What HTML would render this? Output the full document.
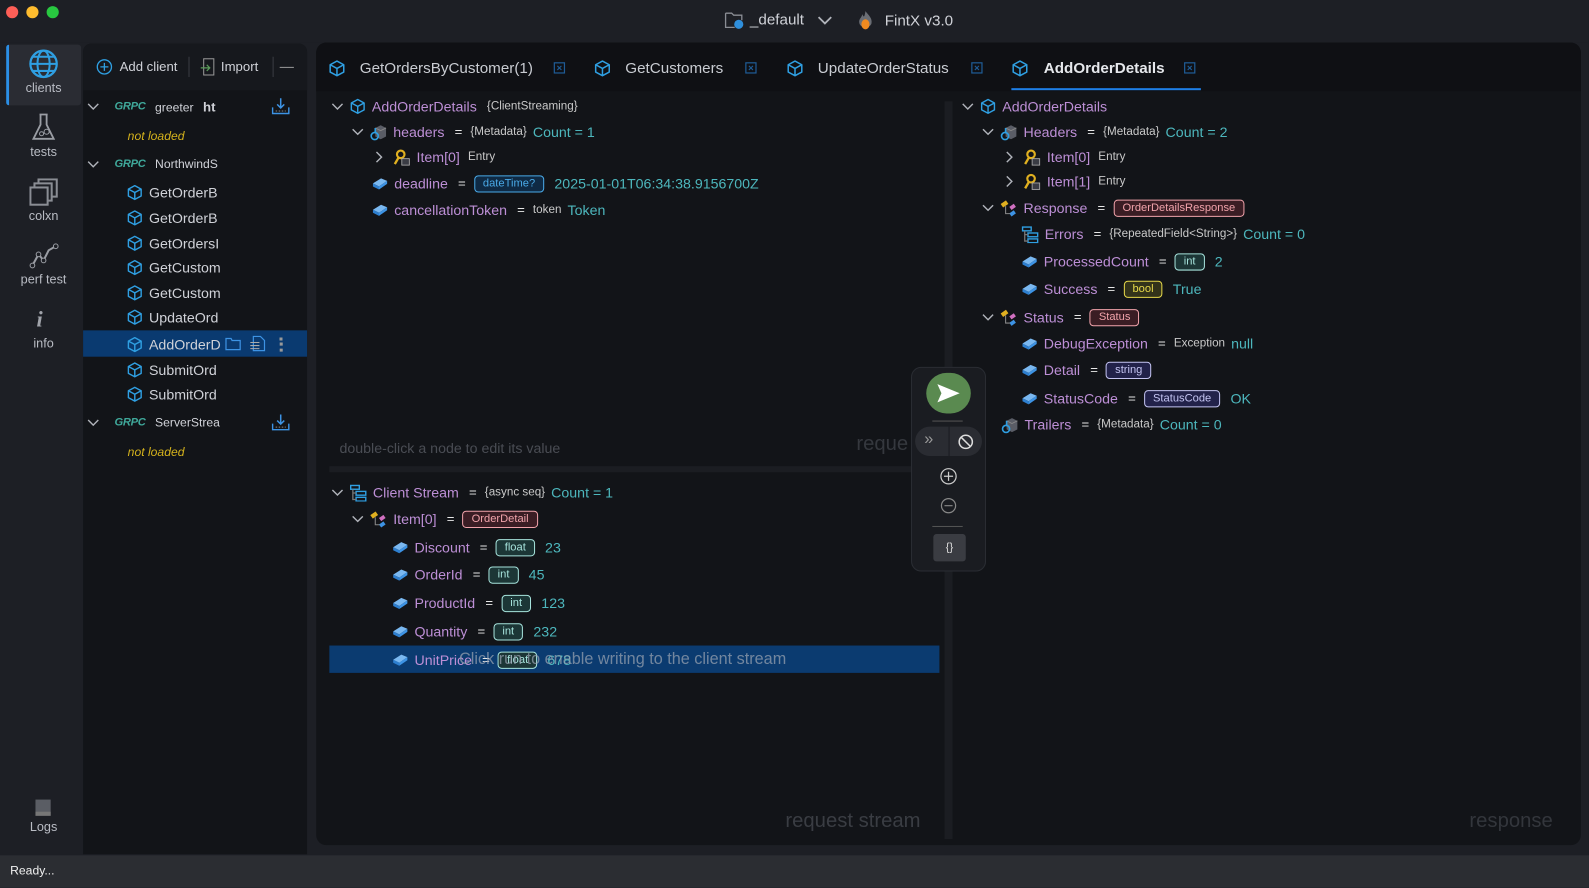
<!DOCTYPE html>
<html><head><meta charset="utf-8">
<style>
*{box-sizing:border-box;margin:0;padding:0}
html,body{width:1589px;height:888px;overflow:hidden;background:#1c1e24;font-family:"Liberation Sans",sans-serif}
#w{position:absolute;left:0;top:0;width:1568px;height:876px;transform:scale(1.01339);transform-origin:0 0;background:#1d1f25}
.a{position:absolute}
.r{position:absolute;display:flex;align-items:center;height:20px;white-space:nowrap}
.r>*{margin-right:6px}
.r>span{line-height:20px}
.n{color:#bd8fd6;font-size:14px}
.eq{color:#e8e8e8;font-size:13px;margin:0 8px 0 4px}
.ty{color:#c9c9c9;font-size:11.5px}
.v{color:#4db7bd;font-size:14px}
.r>.p{font-size:11px;padding:0 8px;border-radius:4px;border:1px solid;height:17px;line-height:15px;margin-right:10px}
.pi{background:#1c3636;border-color:#3d6a68;color:#a6e3dc}
.pb{background:#33331a;border-color:#6a6a30;color:#e6d84a}
.pr{background:#3a1d24;border-color:#9a3e4e;color:#f1a3ab}
.ps{background:#22224a;border-color:#56569a;color:#c4c4f2}
.pd{background:#0f2a44;border-color:#2c6494;color:#4aaae8}
.side{color:#b9bcc4;font-size:12.5px;text-align:center;width:74px}
.cl{color:#d0d2d8;font-size:14px}
.tab{color:#c9ccd2;font-size:15px}
.g{color:#3fa89a;font-size:11px;font-weight:bold;font-style:italic;letter-spacing:-.3px}
</style></head><body><div id="w">
<svg width="0" height="0" style="position:absolute">
<defs>
<symbol id="cube" viewBox="0 0 16 16"><path d="M8 1.2L14.3 4.6V11.4L8 14.8L1.7 11.4V4.6Z M1.7 4.6L8 8L14.3 4.6 M8 8V14.8" fill="none" stroke="#2f9fe2" stroke-width="1.4" stroke-linejoin="round"/></symbol>
<symbol id="fld" viewBox="0 0 16 14"><path d="M1 7L9 2L15 4.5L7 10Z" fill="#7ab8f0"/><path d="M1 7L7 10L7 13L1 10Z" fill="#2d7fd0"/><path d="M7 10L15 4.5L15 7.5L7 13Z" fill="#3d93e4"/></symbol>
<symbol id="hdr" viewBox="0 0 16 16"><path d="M5 4L10 1.5L15 4V12L10 14.5L5 12Z" fill="#5a5d66"/><path d="M5 4L10 6.5L15 4" fill="none" stroke="#888" stroke-width=".8"/><circle cx="4.5" cy="11.5" r="3.3" fill="none" stroke="#2f9fe2" stroke-width="1.5"/><path d="M5 4L5 9" stroke="#2f9fe2" stroke-width="1.5"/></symbol>
<symbol id="key" viewBox="0 0 16 16"><circle cx="7" cy="5" r="3.5" fill="none" stroke="#e0b020" stroke-width="2"/><path d="M5 8L1.5 14" stroke="#e0b020" stroke-width="2.2"/><rect x="8" y="9" width="7" height="6" fill="#3a3c44" stroke="#aaa" stroke-width=".8"/></symbol>
<symbol id="str" viewBox="0 0 16 16"><rect x="1" y="2" width="6" height="4" transform="rotate(-35 4 4)" fill="#e0b020"/><rect x="9" y="5" width="5" height="3.5" transform="rotate(-35 11.5 6.7)" fill="#d070c0"/><rect x="9" y="11" width="5" height="3.5" transform="rotate(-35 11.5 12.7)" fill="#3d93e4"/><path d="M5 6V13H9" fill="none" stroke="#888" stroke-width="1"/></symbol>
<symbol id="lst" viewBox="0 0 16 16"><rect x="1" y="1" width="8" height="3.5" fill="none" stroke="#2f9fe2" stroke-width="1.3"/><rect x="6" y="6.5" width="9" height="3.5" fill="none" stroke="#2f9fe2" stroke-width="1.3"/><rect x="6" y="12" width="9" height="3.5" fill="none" stroke="#2f9fe2" stroke-width="1.3"/><path d="M3 4.5V14H6M3 8H6" stroke="#777" stroke-width="1.2" fill="none"/></symbol>
<symbol id="dn" viewBox="0 0 12 8"><path d="M1 1.5L6 6.5L11 1.5" fill="none" stroke="#b0b3ba" stroke-width="1.4"/></symbol>
<symbol id="rt" viewBox="0 0 8 12"><path d="M1.5 1L6.5 6L1.5 11" fill="none" stroke="#b0b3ba" stroke-width="1.4"/></symbol>
<symbol id="x" viewBox="0 0 12 12"><rect x="1" y="1" width="10" height="10" fill="none" stroke="#1f5c96" stroke-width="1.2"/><path d="M4 4L8 8M8 4L4 8" stroke="#1f5c96" stroke-width="1.1"/></symbol>
<symbol id="dl" viewBox="0 0 18 18"><path d="M1 10V16H17V10" fill="none" stroke="#3d93e4" stroke-width="1.4"/><path d="M9 1V10M5.5 7L9 10.5L12.5 7" fill="none" stroke="#3d93e4" stroke-width="1.5"/><path d="M4 13.5H14" stroke="#888" stroke-dasharray="1.5 1.5"/></symbol>
</defs></svg>

<!-- title bar -->
<div class="a" style="left:0;top:0;width:1568px;height:42px;background:#1d1f25"></div>
<div class="a" style="left:6px;top:6px;width:12px;height:12px;border-radius:6px;background:#fe5f57"></div>
<div class="a" style="left:26px;top:6px;width:12px;height:12px;border-radius:6px;background:#febc2e"></div>
<div class="a" style="left:46px;top:6px;width:12px;height:12px;border-radius:6px;background:#28c840"></div>
<svg class="a" style="left:715px;top:11px" width="20" height="18" viewBox="0 0 20 18"><path d="M1 2H7L9 4H17V9M1 2V16H10" fill="none" stroke="#8a8d94" stroke-width="1.3"/><circle cx="14" cy="13" r="4.5" fill="#2f8fdc"/></svg>
<div class="a" style="left:740px;top:11px;color:#d0d2d8;font-size:15px">_default</div>
<svg class="a" style="left:806px;top:15px" width="16" height="10" viewBox="0 0 12 8"><use href="#dn"/></svg>
<svg class="a" style="left:845px;top:10px" width="18" height="20" viewBox="0 0 18 20"><path d="M9 1C12 5 16 8 15 13C14 18 4 18 3 13C2 9 5 8 6 4C7 7 8 8 9 1Z" fill="#6a6d74"/><ellipse cx="9" cy="14" rx="4" ry="5" fill="#f08a20"/></svg>
<div class="a" style="left:873px;top:12px;color:#d0d2d8;font-size:15px">FintX v3.0</div>

<!-- left icon bar -->
<div class="a" style="left:6px;top:44px;width:74px;height:60px;background:#2a2c33;border-left:3px solid #2b8fe6;border-radius:3px"></div>
<svg class="a" style="left:28px;top:48px" width="30" height="30" viewBox="0 0 30 30"><circle cx="15" cy="15" r="13" fill="none" stroke="#2f9fe2" stroke-width="2.2"/><ellipse cx="15" cy="15" rx="6" ry="13" fill="none" stroke="#2f9fe2" stroke-width="2"/><path d="M2 15H28M4 8H26M4 22H26" stroke="#2f9fe2" stroke-width="2"/></svg>
<div class="a side" style="left:6px;top:80px">clients</div>
<svg class="a" style="left:31px;top:111px" width="24" height="30" viewBox="0 0 24 30"><path d="M8 2H16M9 2V12L2 26H22L15 12V2" fill="none" stroke="#9a9da4" stroke-width="1.8"/><circle cx="10" cy="21" r="2" fill="none" stroke="#9a9da4"/><circle cx="15" cy="19" r="2.5" fill="none" stroke="#9a9da4"/></svg>
<div class="a side" style="left:6px;top:143px">tests</div>
<svg class="a" style="left:29px;top:176px" width="30" height="28" viewBox="0 0 30 28"><rect x="1" y="9" width="17" height="17" fill="none" stroke="#8a8d94" stroke-width="2"/><path d="M5 9V5H22V22H18M9 5V1H27V18H22" fill="none" stroke="#8a8d94" stroke-width="2"/></svg>
<div class="a side" style="left:6px;top:206px">colxn</div>
<svg class="a" style="left:29px;top:240px" width="30" height="26" viewBox="0 0 30 26"><path d="M3 22L9 11L14 17L19 7L26 3" fill="none" stroke="#9a9da4" stroke-width="2"/><circle cx="3" cy="22" r="2.3" fill="#1d1f25" stroke="#9a9da4"/><circle cx="9" cy="11" r="2.3" fill="#1d1f25" stroke="#9a9da4"/><circle cx="14" cy="17" r="2.3" fill="#1d1f25" stroke="#9a9da4"/><circle cx="26" cy="3" r="2.3" fill="#1d1f25" stroke="#9a9da4"/></svg>
<div class="a side" style="left:6px;top:269px">perf test</div>
<div class="a" style="left:36px;top:302px;color:#a0a3aa;font-size:22px;font-style:italic;font-family:'Liberation Serif',serif;font-weight:bold">i</div>
<div class="a side" style="left:6px;top:332px">info</div>
<div class="a" style="left:35px;top:789px;width:15px;height:16px;background:#5a5d64;border-bottom:4px solid #777"></div>
<div class="a side" style="left:6px;top:809px">Logs</div>

<!-- client list -->
<div class="a" style="left:82px;top:43px;width:221px;height:800px;background:#121418;border-radius:8px 8px 0 0"></div>
<div class="a" style="left:82px;top:43px;width:221px;height:46px;background:#16181d;border-radius:8px 8px 0 0"></div>
<svg class="a" style="left:95px;top:58px" width="16" height="16" viewBox="0 0 16 16"><circle cx="8" cy="8" r="7" fill="none" stroke="#2f9fe2" stroke-width="1.3"/><path d="M8 4V12M4 8H12" stroke="#2f9fe2" stroke-width="1.3"/></svg>
<div class="a cl" style="left:118px;top:58px;font-size:13px">Add client</div>
<div class="a" style="left:186px;top:56px;width:1px;height:20px;background:#3a3c44"></div>
<svg class="a" style="left:198px;top:57px" width="15" height="18" viewBox="0 0 15 18"><rect x="3" y="1" width="10" height="16" fill="none" stroke="#999"/><path d="M0 10H9M6 7L9 10L6 13" fill="none" stroke="#5a9a5a" stroke-width="1.2"/></svg>
<div class="a cl" style="left:218px;top:58px;font-size:13px">Import</div>
<div class="a" style="left:269px;top:56px;width:1px;height:20px;background:#3a3c44"></div>
<div class="a" style="left:276px;top:66px;width:14px;height:1px;background:#999"></div>

<svg class="a" style="left:86px;top:101px" width="12" height="8"><use href="#dn"/></svg>
<div class="a g" style="left:113px;top:99px">GRPC</div>
<div class="a cl" style="left:153px;top:98px;font-size:12px">greeter <b style="font-size:13px;margin-left:6px">ht</b></div>
<svg class="a" style="left:268px;top:96px" width="18" height="18"><use href="#dl"/></svg>
<div class="a" style="left:126px;top:127px;color:#d4b21c;font-size:12px;font-style:italic">not loaded</div>
<svg class="a" style="left:86px;top:158px" width="12" height="8"><use href="#dn"/></svg>
<div class="a g" style="left:113px;top:156px">GRPC</div>
<div class="a cl" style="left:153px;top:155px;font-size:12px">NorthwindS</div>

<div class="a" style="left:82px;top:326px;width:221px;height:26px;background:#0a3a70"></div>
<svg class="a" style="left:125px;top:182px" width="16" height="16"><use href="#cube"/></svg><div class="a cl" style="left:147px;top:182px">GetOrderB</div>
<svg class="a" style="left:125px;top:207px" width="16" height="16"><use href="#cube"/></svg><div class="a cl" style="left:147px;top:207px">GetOrderB</div>
<svg class="a" style="left:125px;top:232px" width="16" height="16"><use href="#cube"/></svg><div class="a cl" style="left:147px;top:232px">GetOrdersI</div>
<svg class="a" style="left:125px;top:256px" width="16" height="16"><use href="#cube"/></svg><div class="a cl" style="left:147px;top:256px">GetCustom</div>
<svg class="a" style="left:125px;top:281px" width="16" height="16"><use href="#cube"/></svg><div class="a cl" style="left:147px;top:281px">GetCustom</div>
<svg class="a" style="left:125px;top:305px" width="16" height="16"><use href="#cube"/></svg><div class="a cl" style="left:147px;top:305px">UpdateOrd</div>
<svg class="a" style="left:125px;top:332px" width="16" height="16"><use href="#cube"/></svg><div class="a cl" style="left:147px;top:332px">AddOrderD</div>
<svg class="a" style="left:222px;top:333px" width="16" height="13" viewBox="0 0 16 13"><path d="M1 1H6L7 3H15V12H1Z" fill="none" stroke="#3d93e4" stroke-width="1.2"/></svg>
<svg class="a" style="left:246px;top:331px" width="16" height="16" viewBox="0 0 16 16"><path d="M4 1H11L15 5V15H4Z" fill="none" stroke="#3d93e4" stroke-width="1.2"/><path d="M1 7H10M1 10H10M1 13H10" stroke="#aaa"/></svg>
<div class="a" style="left:276px;top:333px;width:3px;height:14px;border-left:3px dotted #999"></div>
<svg class="a" style="left:125px;top:357px" width="16" height="16"><use href="#cube"/></svg><div class="a cl" style="left:147px;top:357px">SubmitOrd</div>
<svg class="a" style="left:125px;top:381px" width="16" height="16"><use href="#cube"/></svg><div class="a cl" style="left:147px;top:381px">SubmitOrd</div>
<svg class="a" style="left:86px;top:413px" width="12" height="8"><use href="#dn"/></svg>
<div class="a g" style="left:113px;top:411px">GRPC</div>
<div class="a cl" style="left:153px;top:410px;font-size:12px">ServerStrea</div>
<svg class="a" style="left:268px;top:408px" width="18" height="18"><use href="#dl"/></svg>
<div class="a" style="left:126px;top:439px;color:#d4b21c;font-size:12px;font-style:italic">not loaded</div>

<!-- main panel -->
<div class="a" style="left:312px;top:42px;width:1248px;height:792px;background:#121418;border-radius:10px"></div>
<div class="a" style="left:312px;top:42px;width:1248px;height:48px;background:#0f1014;border-radius:10px 10px 0 0"></div>
<svg class="a" style="left:324px;top:59px" width="17" height="17"><use href="#cube"/></svg><div class="a tab" style="left:355px;top:59px">GetOrdersByCustomer(1)</div>
<svg class="a" style="left:546px;top:61px" width="12" height="12"><use href="#x"/></svg>
<svg class="a" style="left:586px;top:59px" width="17" height="17"><use href="#cube"/></svg><div class="a tab" style="left:617px;top:59px">GetCustomers</div>
<svg class="a" style="left:735px;top:61px" width="12" height="12"><use href="#x"/></svg>
<svg class="a" style="left:776px;top:59px" width="17" height="17"><use href="#cube"/></svg><div class="a tab" style="left:807px;top:59px">UpdateOrderStatus</div>
<svg class="a" style="left:958px;top:61px" width="12" height="12"><use href="#x"/></svg>
<svg class="a" style="left:998px;top:59px" width="17" height="17"><use href="#cube"/></svg><div class="a tab" style="left:1030px;top:59px;font-weight:bold;color:#e6e8ec">AddOrderDetails</div>
<svg class="a" style="left:1168px;top:61px" width="12" height="12"><use href="#x"/></svg>
<div class="a" style="left:998px;top:87px;width:187px;height:2px;background:#1e7fe6"></div>

<!-- splitters -->
<div class="a" style="left:932px;top:100px;width:8px;height:728px;background:#1b1d22"></div>
<div class="a" style="left:325px;top:460px;width:603px;height:6px;background:#1b1d22"></div>

<!-- request tree -->
<div class="r" style="left:327px;top:95px"><svg width="12" height="8"><use href="#dn"/></svg><svg width="16" height="16"><use href="#cube"/></svg><span class="n">AddOrderDetails</span><span class="ty" style="margin-left:4px">{ClientStreaming}</span></div>
<div class="r" style="left:347px;top:120px"><svg width="12" height="8"><use href="#dn"/></svg><svg width="17" height="17"><use href="#hdr"/></svg><span class="n">headers</span><span class="eq">=</span><span class="ty">{Metadata}</span><span class="v">Count = 1</span></div>
<div class="r" style="left:370px;top:145px"><svg width="8" height="12"><use href="#rt"/></svg><svg width="17" height="17" style="margin-left:4px"><use href="#key"/></svg><span class="n">Item[0]</span><span class="ty" style="margin-left:2px">Entry</span></div>
<div class="r" style="left:367px;top:171px"><svg width="16" height="14"><use href="#fld"/></svg><span class="n">deadline</span><span class="eq">=</span><span class="p pd">dateTime?</span><span class="v">2025-01-01T06:34:38.9156700Z</span></div>
<div class="r" style="left:367px;top:197px"><svg width="16" height="14"><use href="#fld"/></svg><span class="n">cancellationToken</span><span class="eq">=</span><span class="ty">token</span><span class="v">Token</span></div>
<div class="a" style="left:335px;top:434px;color:#4a4d54;font-size:14px">double-click a node to edit its value</div>
<div class="a" style="left:845px;top:427px;color:#35383e;font-size:20px">reque</div>

<div class="r" style="left:327px;top:476px"><svg width="12" height="8"><use href="#dn"/></svg><svg width="17" height="17"><use href="#lst"/></svg><span class="n">Client Stream</span><span class="eq">=</span><span class="ty">{async seq}</span><span class="v">Count = 1</span></div>
<div class="r" style="left:347px;top:502px"><svg width="12" height="8"><use href="#dn"/></svg><svg width="17" height="17"><use href="#str"/></svg><span class="n">Item[0]</span><span class="eq">=</span><span class="p pr">OrderDetail</span></div>
<div class="r" style="left:387px;top:530px"><svg width="16" height="14"><use href="#fld"/></svg><span class="n">Discount</span><span class="eq">=</span><span class="p pi">float</span><span class="v">23</span></div>
<div class="r" style="left:387px;top:557px"><svg width="16" height="14"><use href="#fld"/></svg><span class="n">OrderId</span><span class="eq">=</span><span class="p pi">int</span><span class="v">45</span></div>
<div class="r" style="left:387px;top:585px"><svg width="16" height="14"><use href="#fld"/></svg><span class="n">ProductId</span><span class="eq">=</span><span class="p pi">int</span><span class="v">123</span></div>
<div class="r" style="left:387px;top:613px"><svg width="16" height="14"><use href="#fld"/></svg><span class="n">Quantity</span><span class="eq">=</span><span class="p pi">int</span><span class="v">232</span></div>
<div class="a" style="left:325px;top:637px;width:602px;height:27px;background:#0b3b70"></div>
<div class="r" style="left:387px;top:641px"><svg width="16" height="14"><use href="#fld"/></svg><span class="n">UnitPrice</span><span class="eq">=</span><span class="p pi">float</span><span class="v">678</span></div>
<div class="a" style="left:453px;top:642px;color:rgba(150,160,175,.75);font-size:16px">Click run to enable writing to the client stream</div>
<div class="a" style="left:775px;top:799px;color:#3a3d43;font-size:20px">request stream</div>

<!-- response tree -->
<div class="r" style="left:949px;top:95px"><svg width="12" height="8"><use href="#dn"/></svg><svg width="16" height="16"><use href="#cube"/></svg><span class="n">AddOrderDetails</span></div>
<div class="r" style="left:969px;top:120px"><svg width="12" height="8"><use href="#dn"/></svg><svg width="17" height="17"><use href="#hdr"/></svg><span class="n">Headers</span><span class="eq">=</span><span class="ty">{Metadata}</span><span class="v">Count = 2</span></div>
<div class="r" style="left:992px;top:145px"><svg width="8" height="12"><use href="#rt"/></svg><svg width="17" height="17" style="margin-left:4px"><use href="#key"/></svg><span class="n">Item[0]</span><span class="ty" style="margin-left:2px">Entry</span></div>
<div class="r" style="left:992px;top:169px"><svg width="8" height="12"><use href="#rt"/></svg><svg width="17" height="17" style="margin-left:4px"><use href="#key"/></svg><span class="n">Item[1]</span><span class="ty" style="margin-left:2px">Entry</span></div>
<div class="r" style="left:969px;top:195px"><svg width="12" height="8"><use href="#dn"/></svg><svg width="17" height="17"><use href="#str"/></svg><span class="n">Response</span><span class="eq">=</span><span class="p pr">OrderDetailsResponse</span></div>
<div class="r" style="left:1008px;top:221px"><svg width="17" height="17"><use href="#lst"/></svg><span class="n">Errors</span><span class="eq">=</span><span class="ty">{RepeatedField&lt;String&gt;}</span><span class="v">Count = 0</span></div>
<div class="r" style="left:1008px;top:248px"><svg width="16" height="14"><use href="#fld"/></svg><span class="n">ProcessedCount</span><span class="eq">=</span><span class="p pi">int</span><span class="v">2</span></div>
<div class="r" style="left:1008px;top:275px"><svg width="16" height="14"><use href="#fld"/></svg><span class="n">Success</span><span class="eq">=</span><span class="p pb">bool</span><span class="v">True</span></div>
<div class="r" style="left:969px;top:303px"><svg width="12" height="8"><use href="#dn"/></svg><svg width="17" height="17"><use href="#str"/></svg><span class="n">Status</span><span class="eq">=</span><span class="p pr">Status</span></div>
<div class="r" style="left:1008px;top:329px"><svg width="16" height="14"><use href="#fld"/></svg><span class="n">DebugException</span><span class="eq">=</span><span class="ty">Exception</span><span class="v">null</span></div>
<div class="r" style="left:1008px;top:355px"><svg width="16" height="14"><use href="#fld"/></svg><span class="n">Detail</span><span class="eq">=</span><span class="p ps">string</span></div>
<div class="r" style="left:1008px;top:383px"><svg width="16" height="14"><use href="#fld"/></svg><span class="n">StatusCode</span><span class="eq">=</span><span class="p ps">StatusCode</span><span class="v">OK</span></div>
<div class="r" style="left:988px;top:409px"><svg width="17" height="17"><use href="#hdr"/></svg><span class="n">Trailers</span><span class="eq">=</span><span class="ty">{Metadata}</span><span class="v">Count = 0</span></div>
<div class="a" style="left:1450px;top:799px;color:#33363c;font-size:20px">response</div>

<!-- floating toolbar -->
<div class="a" style="left:899px;top:362px;width:74px;height:202px;background:#1a1c21;border:1px solid #2a2d33;border-radius:10px"></div>
<div class="a" style="left:914px;top:368px;width:44px;height:40px;border-radius:22px;background:#5a8a50"></div>
<svg class="a" style="left:924px;top:378px" width="24" height="20" viewBox="0 0 24 20"><path d="M1 1L23 10L1 19L5 10Z" fill="#fff"/></svg>
<div class="a" style="left:920px;top:415px;width:30px;height:1px;background:#555"></div>
<div class="a" style="left:903px;top:421px;width:66px;height:29px;border-radius:15px;background:#2a2c32"></div>
<div class="a" style="left:936px;top:421px;width:1px;height:29px;background:#1a1c21"></div>
<div class="a" style="left:912px;top:425px;color:#999;font-size:16px">»</div>
<svg class="a" style="left:945px;top:428px" width="16" height="16" viewBox="0 0 16 16"><circle cx="8" cy="8" r="6.5" fill="none" stroke="#ddd" stroke-width="1.5"/><path d="M3.5 3.5L12.5 12.5" stroke="#ddd" stroke-width="1.5"/></svg>
<svg class="a" style="left:927px;top:461px" width="18" height="18" viewBox="0 0 18 18"><circle cx="9" cy="9" r="7.5" fill="none" stroke="#ccc" stroke-width="1.2"/><path d="M9 4.5V13.5M4.5 9H13.5" stroke="#ccc" stroke-width="1.2"/></svg>
<svg class="a" style="left:928px;top:491px" width="16" height="16" viewBox="0 0 16 16"><circle cx="8" cy="8" r="7" fill="none" stroke="#888" stroke-width="1.2"/><path d="M4 8H12" stroke="#888" stroke-width="1.2"/></svg>
<div class="a" style="left:920px;top:519px;width:30px;height:1px;background:#555"></div>
<div class="a" style="left:921px;top:527px;width:32px;height:27px;background:#3a3c42;border-radius:3px;color:#ddd;font-size:11px;text-align:center;line-height:27px">{}</div>

<!-- status bar -->
<div class="a" style="left:0;top:844px;width:1568px;height:32px;background:#2b2d32"></div>
<div class="a" style="left:10px;top:852px;color:#f0f0f0;font-size:12px">Ready...</div>
</div></body></html>
